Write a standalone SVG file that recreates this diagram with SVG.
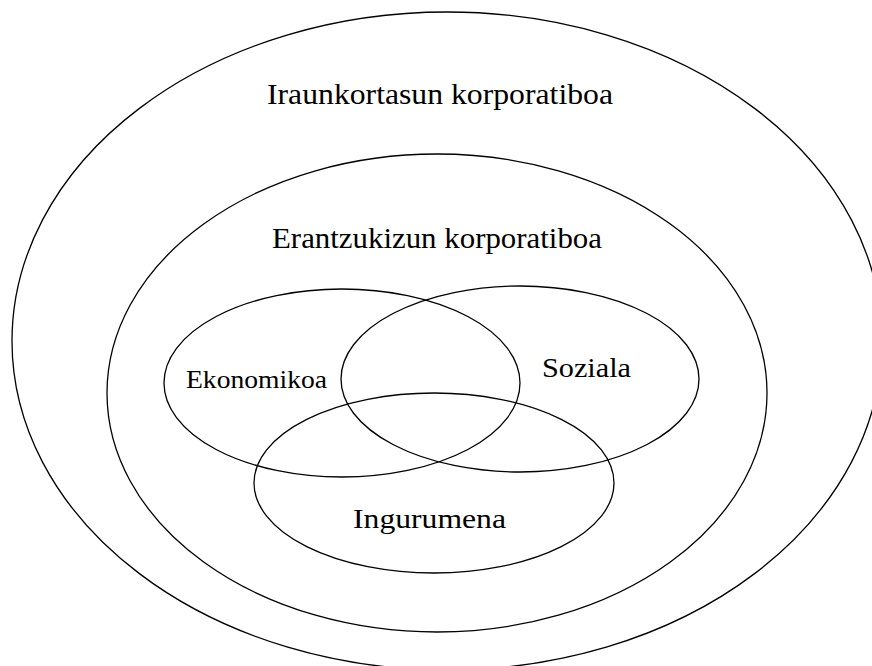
<svg xmlns="http://www.w3.org/2000/svg" width="872" height="666" viewBox="0 0 872 666">
<style>
  .ring { fill: none; stroke: #000; stroke-width: 1.3; }
  .lbl { font-family: "Liberation Serif", "Times New Roman", serif; fill: #000; text-anchor: start; }
</style>
<rect width="872" height="666" fill="#fff"/>
<g id="iraunkortasun">
  <ellipse class="ring" cx="447" cy="341" rx="435" ry="329"/>
  <text class="lbl" x="267" y="104" font-size="29" textLength="346" lengthAdjust="spacingAndGlyphs">Iraunkortasun korporatiboa</text>
</g>
<g id="erantzukizun">
  <ellipse class="ring" cx="437" cy="393" rx="330" ry="239"/>
  <text class="lbl" x="272" y="248" font-size="29" textLength="330" lengthAdjust="spacingAndGlyphs">Erantzukizun korporatiboa</text>
</g>
<g id="ekonomikoa">
  <ellipse class="ring" cx="342" cy="383" rx="178" ry="94"/>
  <text class="lbl" x="186" y="388" font-size="25" textLength="141" lengthAdjust="spacingAndGlyphs">Ekonomikoa</text>
</g>
<g id="soziala">
  <ellipse class="ring" cx="520" cy="379" rx="179" ry="93"/>
  <text class="lbl" x="542" y="377" font-size="28" textLength="89" lengthAdjust="spacingAndGlyphs">Soziala</text>
</g>
<g id="ingurumena">
  <ellipse class="ring" cx="434" cy="483" rx="180" ry="90"/>
  <text class="lbl" x="353" y="528" font-size="28" textLength="153" lengthAdjust="spacingAndGlyphs">Ingurumena</text>
</g>
<g id="connectors"></g>
</svg>
